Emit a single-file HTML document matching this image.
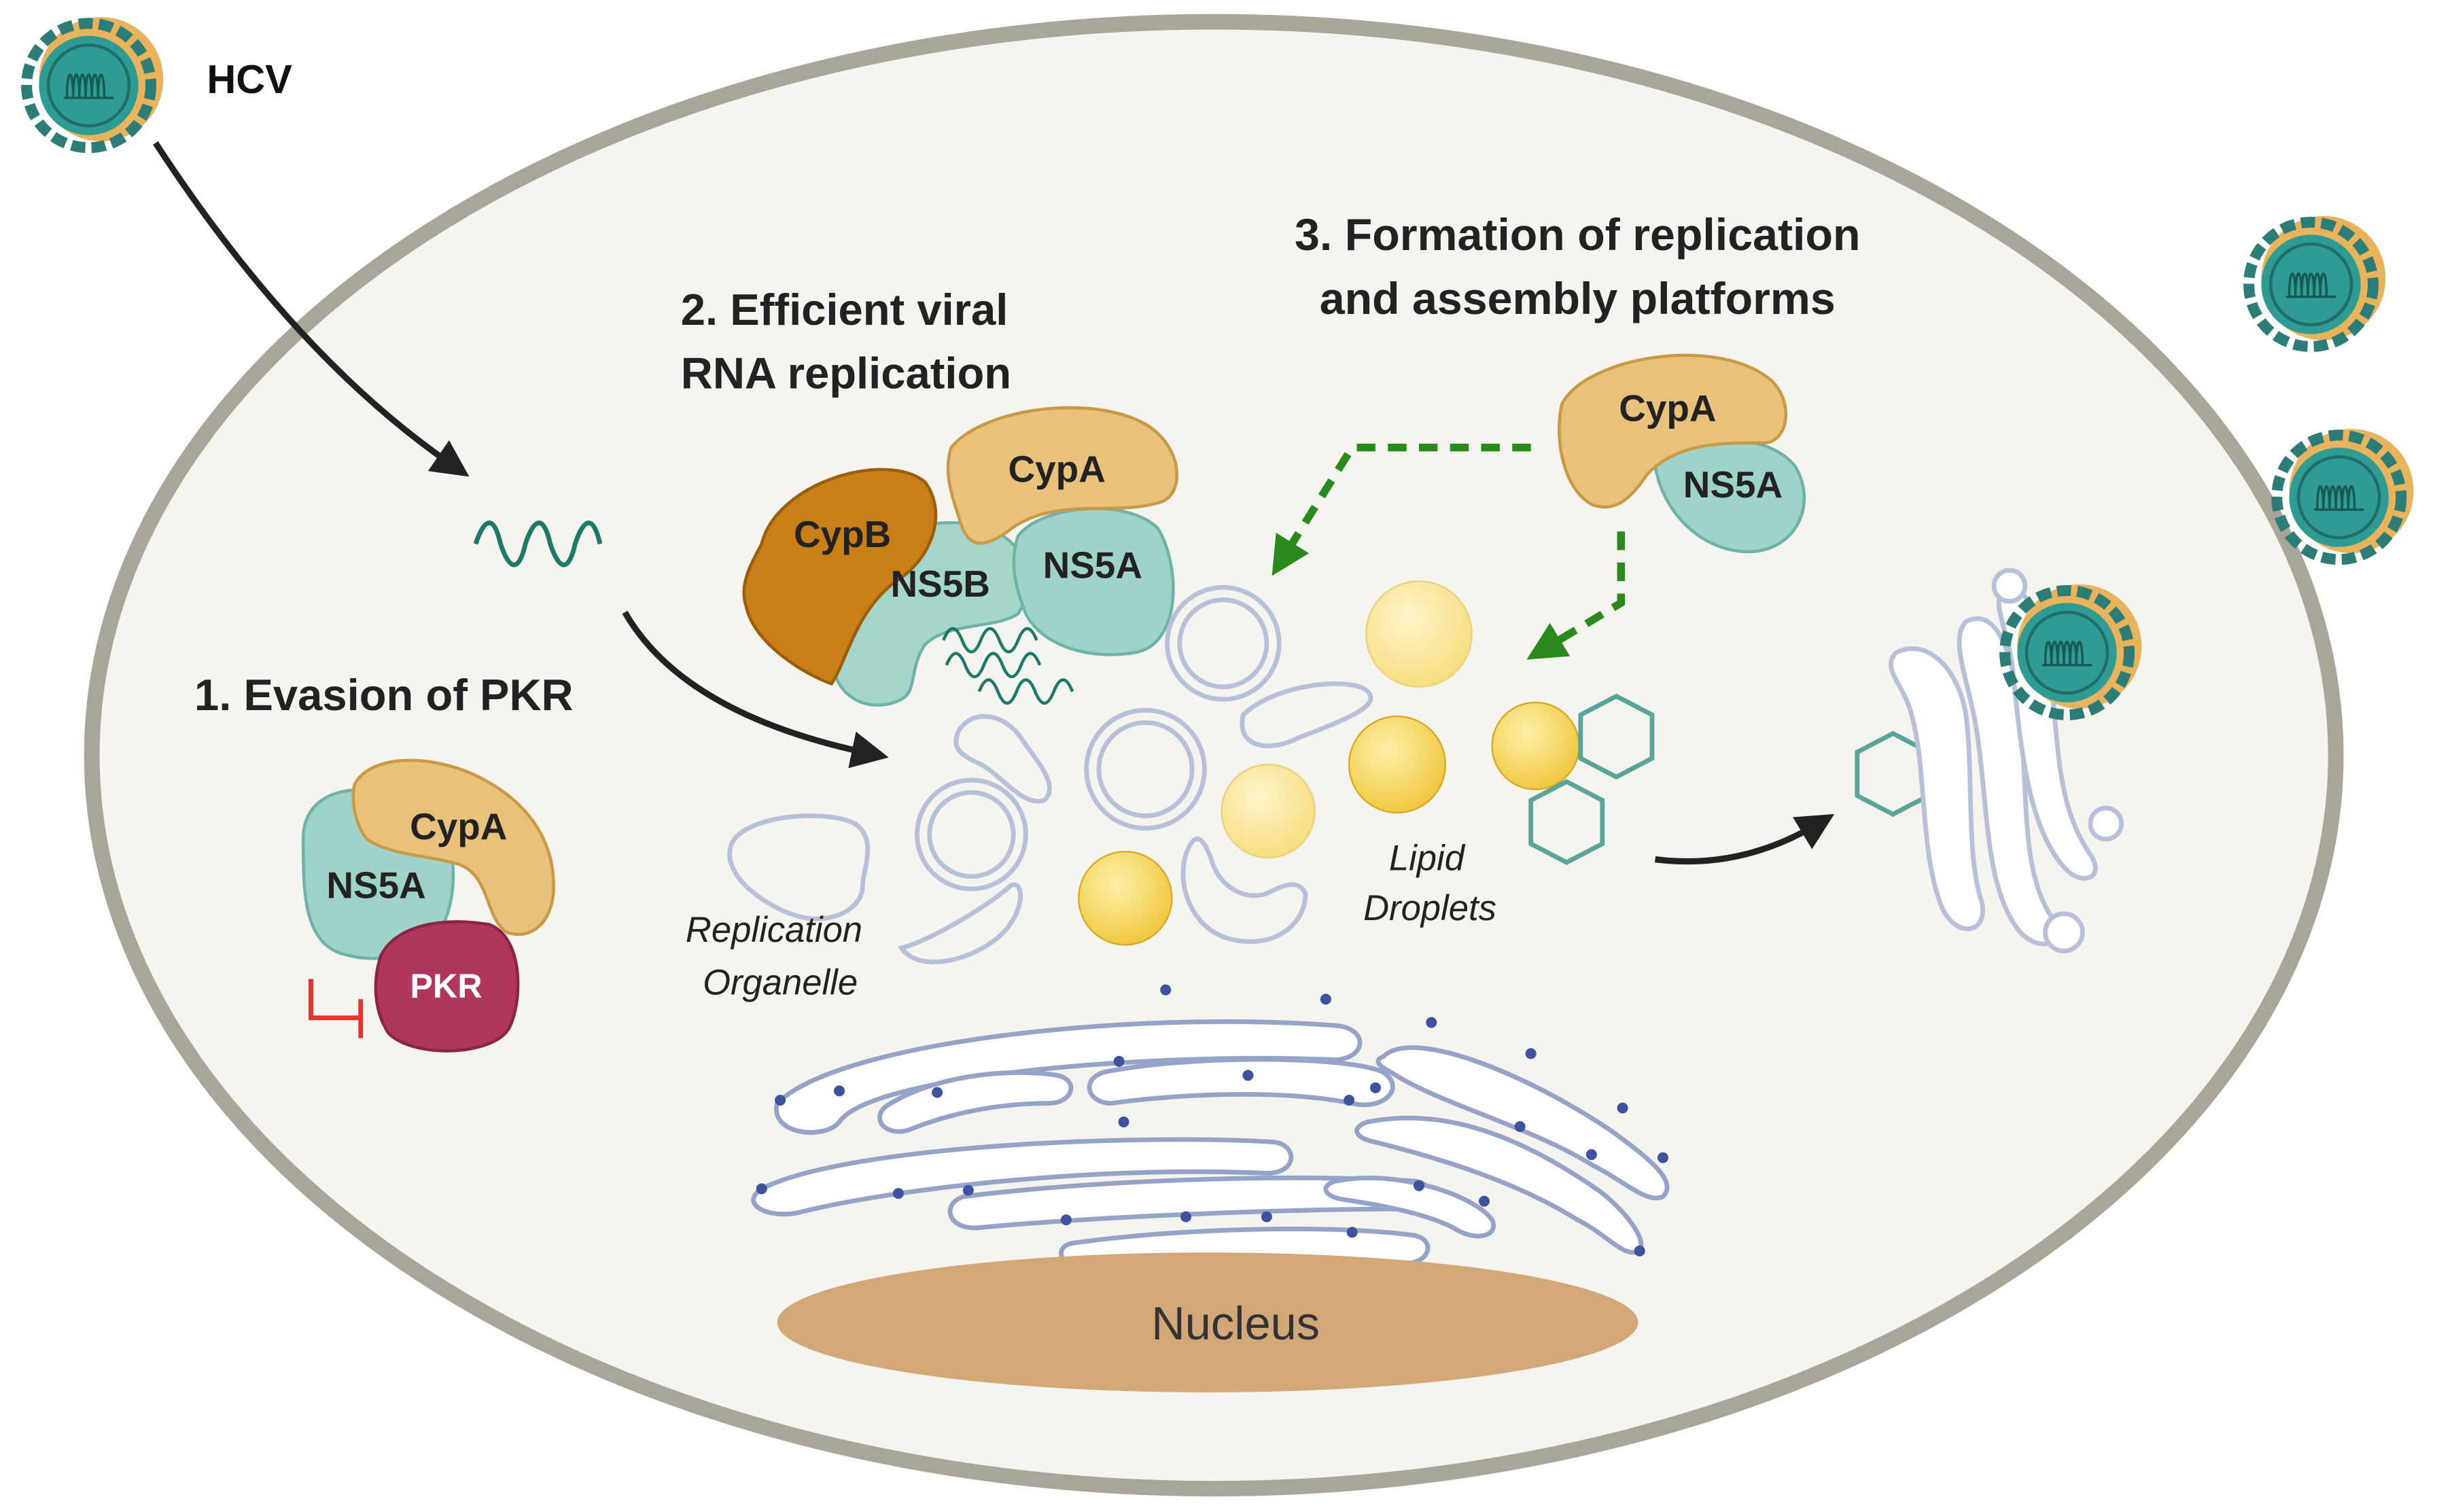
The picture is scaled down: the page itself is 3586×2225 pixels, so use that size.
<!DOCTYPE html>
<html><head><meta charset="utf-8"><style>
html,body{margin:0;padding:0;background:#fff;}
svg{display:block;}
text{font-family:"Liberation Sans",sans-serif;}
</style></head><body>
<svg width="3586" height="2225" viewBox="0 0 1568 973" xmlns="http://www.w3.org/2000/svg">
<defs>
<marker id="ah" markerWidth="6" markerHeight="6" refX="3" refY="3" orient="auto" markerUnits="strokeWidth"><path d="M0,0 L6,3 L0,6 z" fill="#222"/></marker>
<marker id="gh" markerWidth="5" markerHeight="5" refX="2.5" refY="2.5" orient="auto" markerUnits="strokeWidth"><path d="M0,0 L5,2.5 L0,5 z" fill="#2a8a1e"/></marker>
<radialGradient id="ly" cx="0.4" cy="0.35" r="0.7"><stop offset="0" stop-color="#fdf0a8"/><stop offset="1" stop-color="#f0c63a"/></radialGradient>
<radialGradient id="lp" cx="0.4" cy="0.35" r="0.7"><stop offset="0" stop-color="#fff6cc"/><stop offset="1" stop-color="#f5dc7a"/></radialGradient>
<g id="virus">
<circle r="40" fill="#e8b35a" cx="8" cy="-4"/>
<circle r="40" fill="none" stroke="#2c7d78" stroke-width="7" stroke-dasharray="9 4"/>
<circle r="32" fill="#2f9c93"/>
<circle r="26" fill="none" stroke="#1f6e69" stroke-width="2"/>
<path d="M-14,8 c0,-20 4,-20 4,0 c0,-20 4,-20 4,0 c0,-20 4,-20 4,0 c0,-20 4,-20 4,0 c0,-20 4,-20 4,0 c0,-20 4,-20 4,0 M-16,8 H16" fill="none" stroke="#155a55" stroke-width="1.5"/>
</g>
</defs>
<rect width="1568" height="973" fill="#fff"/>
<ellipse cx="781" cy="486" rx="722" ry="472" fill="#f6f4ef" stroke="#a9a598" stroke-width="10"/>
<use href="#virus" x="57" y="55"/>
<use href="#virus" x="1487" y="183"/>
<use href="#virus" x="1505" y="320"/>
<text x="133" y="60" font-size="26" font-weight="bold" fill="#111">HCV</text>
<path d="M100,92 Q190,230 292,300" fill="none" stroke="#222" stroke-width="4" marker-end="url(#ah)"/>
<path d="M306,350 c6,-18 12,-18 16,0 c6,18 12,18 16,0 c6,-18 12,-18 16,0 c6,18 12,18 16,0 c6,-18 12,-18 16,0" fill="none" stroke="#1c7a6a" stroke-width="3"/>
<path d="M402,394 Q440,460 560,485" fill="none" stroke="#222" stroke-width="4" marker-end="url(#ah)"/>
<text x="125" y="457" font-size="28.5" font-weight="bold" fill="#222">1. Evasion of PKR</text>
<text x="438" y="209" font-size="28.5" font-weight="bold" fill="#222">2. Efficient viral</text>
<text x="438" y="250" font-size="28.5" font-weight="bold" fill="#222">RNA replication</text>
<text x="1015" y="161" font-size="29" font-weight="bold" fill="#222" text-anchor="middle">3. Formation of replication</text>
<text x="1015" y="202" font-size="29" font-weight="bold" fill="#222" text-anchor="middle">and assembly platforms</text>
<path d="M195,540 c0,-30 30,-35 50,-30 l30,5 c20,20 20,60 10,80 c-10,20 -40,25 -60,20 c-30,-5 -30,-40 -30,-75z" fill="#9ed3c9" stroke="#6fb3a8" stroke-width="2"/>
<path d="M245,615 c10,-20 40,-25 70,-20 c25,10 20,60 10,70 c-15,15 -60,15 -75,0 c-10,-15 -10,-35 -5,-50z" fill="#b0365b" stroke="#8a2545" stroke-width="2"/>
<path d="M228,505 c10,-20 50,-20 80,-5 c30,15 50,40 48,75 c-2,20 -15,30 -30,25 c-15,-10 -10,-40 -35,-45 c-20,-5 -40,-5 -55,-15 c-8,-10 -10,-25 -8,-35z" fill="#e8c27a" stroke="#c99a45" stroke-width="2"/>
<text x="295" y="540" font-size="24" font-weight="bold" fill="#222" text-anchor="middle">CypA</text>
<text x="242" y="578" font-size="24" font-weight="bold" fill="#222" text-anchor="middle">NS5A</text>
<text x="287" y="642" font-size="22" font-weight="bold" fill="#fff" text-anchor="middle">PKR</text>
<path d="M200,630 V655 H232 M232,643 V668" fill="none" stroke="#e8322d" stroke-width="3"/>
<path d="M545,380 c10,-40 60,-50 90,-40 c30,10 30,40 20,55 c-15,10 -45,5 -60,20 c-10,15 -5,30 -15,35 c-20,10 -45,0 -45,-30 c0,-20 5,-30 10,-40z" fill="#a5d6cc" stroke="#6fb3a8" stroke-width="2"/>
<path d="M655,345 c15,-20 70,-25 90,-5 c15,25 15,75 -15,80 c-30,5 -60,-5 -70,-25 c-8,-20 -10,-35 -5,-50z" fill="#9ed3c9" stroke="#6fb3a8" stroke-width="2"/>
<path d="M490,350 c10,-40 80,-60 105,-40 c15,20 5,50 -20,65 c-25,20 -30,50 -40,65 c-15,-5 -50,-25 -55,-50 c-5,-15 5,-30 10,-40z" fill="#c97f18" stroke="#9a5e0c" stroke-width="2"/>
<path d="M612,288 c20,-25 90,-35 125,-15 c25,15 25,45 10,50 c-30,10 -70,-5 -100,20 c-15,10 -25,10 -30,-10 c-5,-15 -10,-30 -5,-45z" fill="#e8c27a" stroke="#c99a45" stroke-width="2"/>
<text x="680" y="310" font-size="24" font-weight="bold" fill="#222" text-anchor="middle">CypA</text>
<text x="542" y="352" font-size="24" font-weight="bold" fill="#222" text-anchor="middle">CypB</text>
<text x="605" y="384" font-size="24" font-weight="bold" fill="#222" text-anchor="middle">NS5B</text>
<text x="703" y="372" font-size="24" font-weight="bold" fill="#222" text-anchor="middle">NS5A</text>
<g fill="none" stroke="#1c7a6a" stroke-width="2">
<path d="M607,412 c4,-10 8,-10 12,0 c4,10 8,10 12,0 c4,-10 8,-10 12,0 c4,10 8,10 12,0 c4,-10 8,-10 12,0"/>
<path d="M609,428 c4,-10 8,-10 12,0 c4,10 8,10 12,0 c4,-10 8,-10 12,0 c4,10 8,10 12,0 c4,-10 8,-10 12,0"/>
<path d="M630,445 c4,-10 8,-10 12,0 c4,10 8,10 12,0 c4,-10 8,-10 12,0 c4,10 8,10 12,0 c4,-10 8,-10 12,0"/>
</g>
<path d="M1065,300 c15,-20 70,-25 90,0 c15,25 0,55 -30,55 c-30,0 -55,-25 -60,-55z" fill="#9ed3c9" stroke="#6fb3a8" stroke-width="2"/>
<path d="M1005,260 c15,-30 100,-45 135,-15 c15,15 10,40 -5,40 c-30,0 -55,0 -75,20 c-10,15 -20,25 -35,20 c-20,-10 -25,-45 -20,-65z" fill="#e8c27a" stroke="#c99a45" stroke-width="2"/>
<text x="1073" y="271" font-size="24" font-weight="bold" fill="#222" text-anchor="middle">CypA</text>
<text x="1115" y="320" font-size="24" font-weight="bold" fill="#222" text-anchor="middle">NS5A</text>
<path d="M985,288 H870 L825,360" fill="none" stroke="#2a8a1e" stroke-width="5" stroke-dasharray="12 8" marker-end="url(#gh)"/>
<path d="M1043,342 V388 L993,418" fill="none" stroke="#2a8a1e" stroke-width="5" stroke-dasharray="12 8" marker-end="url(#gh)"/>
<g fill="none" stroke="#b6c0d8" stroke-width="3">
<circle cx="787" cy="414" r="36"/><circle cx="787" cy="414" r="28"/>
<circle cx="737" cy="495" r="38"/><circle cx="737" cy="495" r="30"/>
<circle cx="625" cy="537" r="35"/><circle cx="625" cy="537" r="27"/>
<path d="M470,545 c5,-20 60,-25 80,-15 c15,10 5,30 5,40 c0,15 -20,25 -40,20 c-20,-5 -50,-25 -45,-45z"/>
<path d="M617,470 c10,-15 30,-10 40,5 c10,15 25,30 15,40 c-15,5 -30,-20 -45,-25 c-10,-5 -15,-10 -10,-20z"/>
<path d="M800,460 c20,-20 70,-25 80,-15 c10,10 -20,20 -45,30 c-20,10 -40,5 -35,-15z"/>
<path d="M765,545 c-10,20 0,55 30,60 c25,5 45,-10 45,-30 c-5,-10 -15,-5 -25,0 c-15,5 -30,-5 -35,-20 c-5,-15 -10,-20 -15,-10z"/>
<path d="M580,610 c20,-5 60,-30 70,-40 c10,-5 10,20 -10,35 c-20,15 -50,20 -60,5z"/>
</g>
<circle cx="913" cy="408" r="34" fill="url(#lp)" stroke="#e8d27a"/>
<circle cx="899" cy="492" r="31" fill="url(#ly)" stroke="#d6a823"/>
<circle cx="988" cy="480" r="28" fill="url(#ly)" stroke="#d6a823"/>
<circle cx="816" cy="522" r="30" fill="url(#lp)" stroke="#e8d27a"/>
<circle cx="724" cy="578" r="30" fill="url(#ly)" stroke="#d6a823"/>
<g fill="none" stroke="#5aa59a" stroke-width="3">
<polygon points="1040,448 1063,460 1063,488 1040,500 1017,488 1017,460"/>
<polygon points="1008,503 1031,515 1031,543 1008,555 985,543 985,515"/>
<polygon points="1218,472 1241,484 1241,512 1218,524 1195,512 1195,484"/>
</g>
<text x="498" y="606" font-size="23" font-style="italic" fill="#222" text-anchor="middle">Replication</text>
<text x="502" y="640" font-size="23" font-style="italic" fill="#222" text-anchor="middle">Organelle</text>
<text x="918" y="560" font-size="23" font-style="italic" fill="#222" text-anchor="middle">Lipid</text>
<text x="920" y="592" font-size="23" font-style="italic" fill="#222" text-anchor="middle">Droplets</text>
<path d="M1065,553 Q1120,560 1170,530" fill="none" stroke="#222" stroke-width="4" marker-end="url(#ah)"/>
<g fill="#fff" stroke="#b6c0d8" stroke-width="3">
<path d="M1220,420 c20,-10 40,10 45,40 c5,40 0,90 10,120 c5,20 -15,25 -25,5 c-15,-35 -10,-90 -20,-125 c-5,-20 -20,-30 -10,-40z"/>
<path d="M1265,400 c20,-10 30,20 35,60 c5,50 0,100 20,130 c10,15 -5,25 -20,10 c-25,-30 -20,-90 -30,-140 c-5,-25 -15,-50 -5,-60z"/>
<path d="M1290,380 c15,-5 25,20 30,60 c5,50 5,80 25,110 c10,15 -5,20 -15,10 c-25,-25 -30,-80 -35,-130 c-3,-25 -15,-45 -5,-50z"/>
<circle cx="1293" cy="377" r="10"/><circle cx="1355" cy="530" r="10"/><circle cx="1328" cy="600" r="12"/>
</g>
<use href="#virus" x="1330" y="420"/>
<g fill="#fff" stroke="#96a3c8" stroke-width="3">
<path d="M500,710 c40,-40 230,-60 360,-50 c20,2 20,20 0,22 c-120,-5 -300,10 -320,40 c-10,12 -45,8 -40,-12z"/>
<path d="M570,712 c30,-20 80,-25 110,-20 c15,3 10,18 -5,18 c-30,0 -60,5 -90,17 c-15,5 -25,-7 -15,-15z"/>
<path d="M710,690 c60,-12 160,-10 180,0 c15,10 0,25 -20,20 c-50,-10 -120,-5 -155,0 c-15,0 -20,-15 -5,-20z"/>
<path d="M490,765 c60,-30 260,-35 330,-30 c15,2 15,20 -5,20 c-110,-5 -240,10 -300,25 c-20,5 -40,-5 -25,-15z"/>
<path d="M620,770 c80,-10 200,-15 290,-10 c15,2 15,18 -5,18 c-80,0 -200,5 -275,12 c-20,2 -25,-15 -10,-20z"/>
<path d="M690,800 c70,-10 170,-12 220,-5 c15,3 10,20 -10,18 c-60,-5 -130,0 -195,5 c-20,2 -30,-15 -15,-18z"/>
<path d="M890,680 c20,-20 100,15 150,50 c20,15 40,30 30,40 c-10,5 -25,-10 -45,-20 c-40,-25 -100,-40 -130,-60 c-10,-5 -10,-8 -5,-10z"/>
<path d="M880,722 c50,-10 100,10 150,45 c15,12 30,30 25,38 c-10,5 -20,-10 -40,-20 c-40,-25 -90,-40 -130,-50 c-15,-3 -15,-10 -5,-13z"/>
<path d="M860,760 c40,-8 90,10 100,25 c5,10 -10,15 -25,5 c-20,-10 -50,-15 -70,-18 c-15,-2 -15,-10 -5,-12z"/>
</g>
<g fill="#3f52a0">
<circle cx="750" cy="637" r="3.5"/><circle cx="853" cy="643" r="3.5"/><circle cx="921" cy="658" r="3.5"/><circle cx="985" cy="678" r="3.5"/>
<circle cx="1044" cy="713" r="3.5"/><circle cx="1070" cy="745" r="3.5"/><circle cx="1024" cy="743" r="3.5"/><circle cx="1055" cy="805" r="3.5"/>
<circle cx="502" cy="708" r="3.5"/><circle cx="540" cy="702" r="3.5"/><circle cx="603" cy="703" r="3.5"/><circle cx="720" cy="683" r="3.5"/>
<circle cx="803" cy="692" r="3.5"/><circle cx="868" cy="708" r="3.5"/><circle cx="723" cy="722" r="3.5"/><circle cx="490" cy="765" r="3.5"/>
<circle cx="578" cy="768" r="3.5"/><circle cx="623" cy="766" r="3.5"/><circle cx="686" cy="785" r="3.5"/><circle cx="763" cy="783" r="3.5"/>
<circle cx="815" cy="783" r="3.5"/><circle cx="870" cy="793" r="3.5"/><circle cx="913" cy="763" r="3.5"/><circle cx="955" cy="773" r="3.5"/>
<circle cx="978" cy="725" r="3.5"/><circle cx="885" cy="700" r="3.5"/>
</g>
<ellipse cx="777" cy="851" rx="277" ry="45" fill="#d3a878"/>
<text x="795" y="862" font-size="30" fill="#333" text-anchor="middle">Nucleus</text>
</svg>
</body></html>
